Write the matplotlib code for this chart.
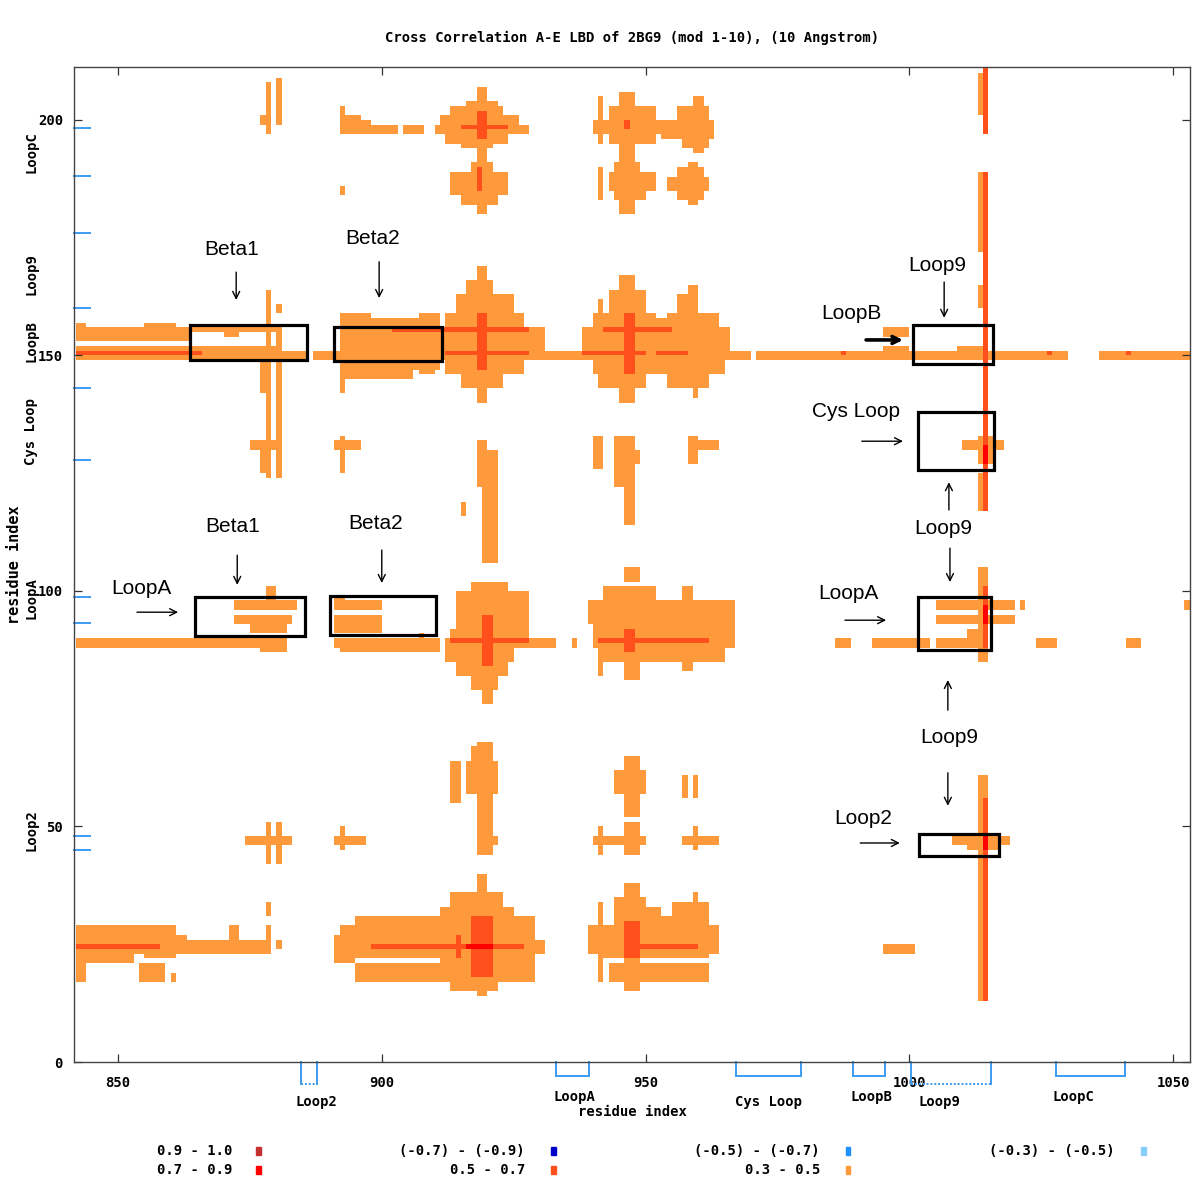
import numpy as np
import matplotlib
matplotlib.use("Agg")
import matplotlib.pyplot as plt
import matplotlib.transforms as mtransforms
from matplotlib.colors import ListedColormap, BoundaryNorm
from matplotlib.patches import Rectangle

# ---------------------------------------------------------------------------
# Residue ranges of the two chains (A on y, E on x)
x_first, x_last = 842, 1053
y_first, y_last = 0, 211

x_ticks = [850, 900, 950, 1000, 1050]
y_ticks = [0, 50, 100, 150, 200]

# Correlation classes and their colours
class_edges = [-0.9, -0.7, -0.5, -0.3, 0.3, 0.5, 0.7, 0.9, 1.0]
class_colors = ['#0000cc', '#1e90ff', '#87cefa', '#ffffff',
                '#ff9a3c', '#ff4f1a', '#ff0000', '#c43030']

legend_labels = ["0.9 - 1.0", "0.7 - 0.9",
                 "(-0.7) - (-0.9)", "0.5 - 0.7",
                 "(-0.5) - (-0.7)", "0.3 - 0.5",
                 "(-0.3) - (-0.5)"]
legend_values = [0.95, 0.8, -0.8, 0.6, -0.6, 0.4, -0.4]

# Loop segments of chain E (x axis) and chain A (y axis)
x_loop_names = ["Loop2", "LoopA", "Cys Loop", "LoopB", "Loop9", "LoopC"]
x_loop_start = [884.7, 933.0, 967.2, 989.3, 1000.3, 1027.8]
x_loop_end = [887.7, 939.3, 979.5, 995.4, 1015.5, 1040.9]
x_loop_label_x = [883.6, 932.5, 967.0, 988.8, 1001.8, 1027.1]

y_loop_marks = [198.3, 188.1, 176.0, 160.1, 143.1, 127.8, 98.7, 93.1, 48.0, 45.0]
y_loop_names = ["LoopC", "Loop9", "LoopB", "Cys Loop", "LoopA", "Loop2"]
y_loop_label_y = [193.2, 167.3, 153.0, 133.8, 98.6, 49.3]

# ---------------------------------------------------------------------------
# Correlated residue blocks: (x0, x1, y0, y1, r), cells x0..x1-1, y0..y1-1
rows_top = [
    (877, 878, 199, 201, 0.4), (878, 879, 197, 208, 0.4), (880, 881, 199, 209, 0.4),
    (892, 893, 197, 203, 0.4), (893, 896, 197, 201, 0.4), (896, 898, 197, 200, 0.4),
    (898, 903, 197, 199, 0.4), (904, 908, 197, 199, 0.4), (892, 893, 184, 186, 0.4),
    (918, 920, 204, 207, 0.4), (916, 922, 203, 204, 0.4), (913, 923, 201, 203, 0.4),
    (911, 926, 199, 201, 0.4), (910, 928, 197, 199, 0.4), (912, 924, 195, 197, 0.4),
    (915, 921, 194, 195, 0.4), (918, 920, 190, 194, 0.4), (917, 921, 189, 191, 0.4),
    (913, 924, 184, 189, 0.4), (915, 922, 182, 184, 0.4), (918, 920, 180, 182, 0.4),
    (918, 920, 196, 202, 0.6), (915, 924, 198, 199, 0.6), (918, 919, 185, 190, 0.6),
    (941, 942, 195, 205, 0.4), (945, 948, 203, 206, 0.4), (943, 952, 200, 203, 0.4),
    (940, 953, 197, 200, 0.4), (943, 952, 195, 197, 0.4), (945, 948, 190, 195, 0.4),
    (941, 942, 183, 190, 0.4), (944, 949, 189, 191, 0.4), (943, 952, 185, 189, 0.4),
    (944, 950, 183, 185, 0.4), (945, 948, 180, 183, 0.4), (946, 947, 198, 200, 0.6),
    (959, 961, 203, 205, 0.4), (956, 962, 200, 203, 0.4), (953, 963, 196, 200, 0.4),
    (957, 962, 194, 196, 0.4), (959, 961, 193, 194, 0.4),
    (956, 961, 183, 190, 0.4), (954, 962, 185, 188, 0.4), (958, 960, 182, 191, 0.4),
]

rows_150 = [
    (842, 864, 153, 156, 0.4), (842, 844, 156, 157, 0.4), (855, 861, 156, 157, 0.4),
    (864, 881, 155, 156, 0.4), (870, 873, 154, 155, 0.4), (842, 881, 149, 152, 0.4),
    (881, 886, 149, 151, 0.4), (887, 892, 149, 151, 0.4), (842, 866, 150, 151, 0.6),
    (878, 879, 124, 164, 0.4), (880, 881, 124, 156, 0.4), (880, 881, 159, 161, 0.4),
    (877, 878, 142, 150, 0.4), (877, 878, 125, 132, 0.4), (875, 881, 130, 132, 0.4),
    (892, 893, 142, 159, 0.4), (892, 911, 147, 158, 0.4), (893, 898, 158, 159, 0.4),
    (907, 911, 158, 159, 0.4), (893, 906, 145, 147, 0.4), (907, 910, 146, 147, 0.4),
    (892, 893, 125, 133, 0.4), (891, 896, 130, 132, 0.4), (902, 928, 155, 156, 0.6),
    (918, 920, 166, 169, 0.4), (916, 921, 163, 166, 0.4), (914, 925, 159, 163, 0.4),
    (912, 927, 156, 159, 0.4), (910, 931, 149, 156, 0.4), (912, 927, 146, 149, 0.4),
    (915, 923, 143, 146, 0.4), (918, 920, 140, 143, 0.4), (918, 920, 147, 159, 0.6),
    (912, 928, 150, 151, 0.6), (931, 970, 149, 151, 0.4),
    (945, 948, 164, 167, 0.4), (941, 942, 156, 162, 0.4), (943, 950, 159, 164, 0.4),
    (956, 960, 159, 163, 0.4), (958, 960, 163, 165, 0.4), (940, 952, 156, 159, 0.4),
    (952, 954, 156, 158, 0.4), (954, 964, 156, 159, 0.4), (938, 966, 149, 156, 0.4),
    (940, 965, 146, 149, 0.4), (941, 950, 143, 146, 0.4), (954, 962, 143, 146, 0.4),
    (945, 948, 140, 143, 0.4), (959, 960, 141, 143, 0.4),
    (946, 948, 146, 159, 0.6), (942, 955, 155, 156, 0.6), (938, 950, 150, 151, 0.6),
    (952, 958, 150, 151, 0.6),
    (971, 1030, 149, 151, 0.4), (1036, 1054, 149, 151, 0.4), (987, 988, 150, 151, 0.6),
    (1026, 1027, 150, 151, 0.6), (1041, 1042, 150, 151, 0.6),
    (995, 1000, 154, 156, 0.4), (995, 1000, 149, 152, 0.4), (1009, 1014, 149, 152, 0.4),
]

rows_130 = [
    (918, 920, 122, 132, 0.4), (920, 922, 122, 130, 0.4), (919, 922, 106, 122, 0.4),
    (915, 916, 116, 119, 0.4), (940, 942, 126, 133, 0.4), (944, 948, 122, 133, 0.4),
    (948, 949, 127, 130, 0.4), (958, 960, 127, 133, 0.4), (960, 964, 130, 132, 0.4),
    (946, 948, 114, 122, 0.4), (1010, 1018, 130, 132, 0.4), (1013, 1016, 127, 133, 0.4),
    (1014, 1015, 127, 131, 0.8),
]

rows_90 = [
    (842, 882, 88, 90, 0.4), (872, 884, 96, 98, 0.4), (872, 883, 93, 95, 0.4),
    (875, 882, 91, 93, 0.4), (878, 880, 98, 101, 0.4), (877, 882, 87, 88, 0.4),
    (891, 900, 96, 98, 0.4), (891, 893, 98, 99, 0.4), (891, 900, 91, 95, 0.4),
    (891, 911, 88, 90, 0.4), (892, 911, 87, 88, 0.4), (907, 908, 90, 91, 0.4),
    (917, 924, 100, 102, 0.4), (914, 928, 98, 100, 0.4), (914, 928, 92, 98, 0.4),
    (913, 928, 90, 92, 0.4), (912, 933, 88, 90, 0.4), (912, 925, 85, 88, 0.4),
    (914, 924, 82, 85, 0.4), (917, 922, 79, 82, 0.4), (919, 921, 76, 79, 0.4),
    (936, 937, 88, 90, 0.4), (919, 921, 84, 95, 0.6), (913, 928, 89, 90, 0.6),
    (946, 949, 102, 105, 0.4), (942, 952, 98, 101, 0.4), (957, 959, 98, 101, 0.4),
    (939, 967, 93, 98, 0.4), (940, 967, 88, 93, 0.4), (941, 965, 85, 88, 0.4),
    (946, 949, 81, 85, 0.4), (941, 942, 82, 85, 0.4), (957, 959, 83, 85, 0.4),
    (941, 962, 89, 90, 0.6), (946, 948, 87, 92, 0.6),
    (986, 989, 88, 90, 0.4), (993, 1004, 88, 90, 0.4), (1005, 1014, 88, 90, 0.4),
    (1024, 1028, 88, 90, 0.4), (1041, 1044, 88, 90, 0.4), (1005, 1020, 96, 98, 0.4),
    (1021, 1022, 96, 98, 0.4), (1005, 1020, 93, 95, 0.4), (1011, 1013, 90, 92, 0.4),
    (1052, 1054, 96, 98, 0.4),
]

rows_47 = [
    (874, 883, 46, 48, 0.4), (878, 879, 42, 51, 0.4), (880, 881, 42, 51, 0.4),
    (891, 897, 46, 48, 0.4), (892, 893, 45, 50, 0.4),
    (918, 921, 44, 68, 0.4), (916, 922, 57, 64, 0.4), (917, 921, 64, 67, 0.4),
    (913, 915, 55, 64, 0.4), (921, 922, 46, 48, 0.4),
    (946, 949, 52, 65, 0.4), (944, 950, 57, 62, 0.4), (946, 949, 44, 51, 0.4),
    (940, 950, 46, 48, 0.4), (941, 942, 44, 50, 0.4),
    (957, 958, 56, 61, 0.4), (959, 960, 56, 61, 0.4), (957, 964, 46, 48, 0.4),
    (959, 960, 45, 50, 0.4),
    (1008, 1019, 46, 48, 0.4), (1011, 1017, 45, 46, 0.4), (1013, 1015, 44, 51, 0.4),
    (1014, 1015, 45, 48, 0.8),
]

rows_25 = [
    (842, 861, 23, 29, 0.4), (842, 853, 21, 23, 0.4), (855, 861, 22, 23, 0.4),
    (861, 879, 23, 26, 0.4), (861, 863, 26, 27, 0.4), (871, 873, 26, 29, 0.4),
    (878, 879, 23, 29, 0.4), (878, 879, 31, 34, 0.4), (880, 881, 24, 26, 0.4),
    (842, 844, 17, 21, 0.4), (854, 859, 17, 21, 0.4), (860, 861, 17, 19, 0.4),
    (842, 858, 24, 25, 0.6),
    (891, 892, 23, 27, 0.4), (892, 929, 23, 29, 0.4), (929, 931, 23, 26, 0.4),
    (895, 912, 29, 31, 0.4), (911, 925, 29, 33, 0.4), (913, 923, 33, 36, 0.4),
    (918, 920, 36, 40, 0.4), (925, 929, 29, 31, 0.4), (891, 895, 21, 23, 0.4),
    (895, 929, 17, 23, 0.4), (913, 922, 15, 17, 0.4), (918, 920, 14, 15, 0.4),
    (917, 921, 18, 31, 0.6), (914, 915, 22, 27, 0.6), (898, 927, 24, 25, 0.6),
    (916, 921, 24, 25, 0.8),
    (939, 964, 23, 29, 0.4), (941, 962, 17, 23, 0.4), (944, 950, 29, 35, 0.4),
    (946, 949, 35, 38, 0.4), (941, 942, 29, 34, 0.4), (950, 953, 29, 33, 0.4),
    (953, 956, 29, 31, 0.4), (955, 962, 29, 34, 0.4), (959, 960, 34, 36, 0.4),
    (946, 949, 15, 17, 0.4), (946, 949, 22, 30, 0.6), (947, 960, 24, 25, 0.6),
    (995, 1001, 23, 25, 0.4),
]

loop9_column = [
    (1013, 1014, 201, 210, 0.4), (1014, 1015, 197, 212, 0.6),
    (1013, 1015, 186, 189, 0.4), (1014, 1015, 117, 189, 0.6),
    (1013, 1014, 172, 186, 0.4), (1013, 1014, 160, 165, 0.4),
    (1013, 1014, 117, 125, 0.4),
    (1013, 1015, 85, 105, 0.4), (1014, 1015, 88, 101, 0.6), (1014, 1015, 93, 97, 0.8),
    (1013, 1015, 13, 61, 0.4), (1014, 1015, 13, 56, 0.6),
]

# uncorrelated lines running through the large blocks
empty_cells = [
    (895, 911, 21, 22), (942, 946, 21, 22), (949, 962, 21, 22), (942, 943, 17, 21),
]

# ---------------------------------------------------------------------------
nx = x_last - x_first + 1
ny = y_last - y_first + 1
corr = np.full((ny, nx), np.nan)
blocks = rows_top + rows_150 + rows_130 + rows_90 + rows_47 + rows_25 + loop9_column
for x0, x1, y0, y1, r in sorted(blocks, key=lambda b: b[4]):
    corr[y0 - y_first:y1 - y_first, x0 - x_first:x1 - x_first] = r
for x0, x1, y0, y1 in empty_cells:
    corr[y0 - y_first:y1 - y_first, x0 - x_first:x1 - x_first] = np.nan

cmap = ListedColormap(class_colors)
norm = BoundaryNorm(class_edges, cmap.N)

W, H = 1197, 1182
fig = plt.figure(figsize=(W / 100, H / 100), dpi=100)
ax = fig.add_axes([74 / W, 1 - 1062 / H, 1116 / W, 995 / H])

x_edges = np.arange(x_first, x_last + 2)
y_edges = np.arange(y_first, y_last + 2)
ax.pcolormesh(x_edges, y_edges, np.ma.masked_invalid(corr), cmap=cmap, norm=norm,
              shading='flat', antialiased=False, edgecolors='none')

ax.set_xlim(841.66, 1053.2)
ax.set_ylim(0, 211.25)

mono = dict(family='DejaVu Sans Mono', weight='bold')
ax.set_xticks(x_ticks)
ax.set_yticks(y_ticks)
ax.set_xticklabels([str(v) for v in x_ticks], fontsize=10, **mono)
ax.set_yticklabels([str(v) for v in y_ticks], fontsize=10, **mono)
ax.tick_params(axis='both', direction='in', length=6, width=0.9, color='#333333',
               top=True, right=True)
ax.tick_params(axis='x', pad=10)
ax.tick_params(axis='y', pad=8)
for side, sp in ax.spines.items():
    sp.set_color('#444444')
    sp.set_linewidth(1.0)

# loop brackets under the x axis
xtrans = mtransforms.blended_transform_factory(ax.transData, ax.transAxes)
loop_blue = '#3c9cf0'
for i, (name, a, b) in enumerate(zip(x_loop_names, x_loop_start, x_loop_end)):
    deep = name in ("Loop2", "Loop9")
    depth = -0.0221 if deep else -0.0141
    ax.plot([a, a], [0, depth], color=loop_blue, lw=1.4, transform=xtrans, clip_on=False)
    ax.plot([b, b], [0, depth], color=loop_blue, lw=1.4, transform=xtrans, clip_on=False)
    ax.plot([a, b], [depth, depth], color=loop_blue, lw=1.4,
            ls=(0, (1, 1)) if deep else '-', transform=xtrans, clip_on=False)
    label_y = -0.0402 if i % 2 == 0 else -0.0352
    ax.text(x_loop_label_x[i], label_y, name, transform=xtrans, ha='left', va='center',
            fontsize=10, **mono)

# loop marks on the y axis
ytrans = mtransforms.blended_transform_factory(ax.transAxes, ax.transData)
for yv in y_loop_marks:
    ax.plot([0, 0.0143], [yv, yv], color=loop_blue, lw=1.4, transform=ytrans, clip_on=False)
for name, yv in zip(y_loop_names, y_loop_label_y):
    ax.text(-0.0385, yv, name, transform=ytrans, rotation=90, ha='center', va='center',
            fontsize=10, **mono)

ax.text(0.5, -0.0503, "residue index", transform=ax.transAxes, ha='center', va='center',
        fontsize=10, **mono)
ax.text(-0.0535, 0.5, "residue index", transform=ax.transAxes, rotation=90,
        ha='center', va='center', fontsize=11, **mono)
fig.text(632 / W, 1 - 38 / H, "Cross Correlation A-E LBD of 2BG9 (mod 1-10), (10 Angstrom)",
         ha='center', va='center', fontsize=10, **mono)

# ---------------------------------------------------------------------------
# annotations
sans = dict(family='Liberation Sans', fontsize=15)
boxes = [
    (863.6, 885.8, 149.0, 156.5), (890.9, 911.4, 148.8, 156.1),
    (1000.7, 1015.9, 148.2, 156.5), (1001.7, 1016.1, 125.7, 138.0),
    (864.6, 885.5, 90.4, 98.7), (890.2, 910.3, 90.7, 98.9),
    (1001.7, 1015.5, 87.5, 98.7), (1001.8, 1017.0, 43.7, 48.4),
]
for x0, x1, y0, y1 in boxes:
    ax.add_patch(Rectangle((x0, y0), x1 - x0, y1 - y0, fill=False, ec='black', lw=2.3,
                           zorder=5))

labels = [
    ("Beta1", 871.6, 172.4), ("Beta2", 898.3, 174.9), ("Loop9", 1005.3, 169.2),
    ("LoopB", 989.0, 159.0), ("Cys Loop", 989.9, 138.2), ("Loop9", 1006.4, 113.2),
    ("Beta1", 871.8, 113.6), ("Beta2", 898.9, 114.4), ("LoopA", 854.4, 100.6),
    ("LoopA", 988.4, 99.4), ("Loop9", 1007.5, 69.0), ("Loop2", 991.2, 51.8),
]
for t, xv, yv in labels:
    ax.text(xv, yv, t, ha='center', va='center', zorder=6, **sans)

arrows = [
    ((872.4, 167.7), (872.4, 161.8), 1.0), ((899.5, 169.9), (899.5, 162.2), 1.0),
    ((1006.6, 165.6), (1006.6, 158.0), 1.0), ((991.8, 153.3), (998.8, 153.3), 2.6),
    ((991.0, 131.8), (998.8, 131.8), 1.0), ((1007.5, 117.2), (1007.5, 123.1), 1.0),
    ((1007.7, 109.1), (1007.7, 101.9), 1.0), ((872.6, 107.6), (872.6, 101.3), 1.0),
    ((900.0, 108.7), (900.0, 101.7), 1.0), ((853.6, 95.5), (861.4, 95.5), 1.0),
    ((987.8, 93.8), (995.6, 93.8), 1.0), ((1007.3, 74.7), (1007.3, 81.1), 1.0),
    ((1007.3, 61.4), (1007.3, 54.4), 1.0), ((990.7, 46.5), (998.2, 46.5), 1.0),
]
for start, end, lw in arrows:
    ax.annotate('', xy=end, xytext=start, zorder=6,
                arrowprops=dict(arrowstyle='->,head_length=0.5,head_width=0.25',
                                lw=lw, color='black', shrinkA=0, shrinkB=0))

# ---------------------------------------------------------------------------
# colour key
key_text_right = [232, 232, 525, 525, 820, 820, 1115]
key_marker_x = [258, 258, 553, 553, 848, 848, 1143]
key_row_y = [1151, 1170, 1151, 1170, 1151, 1170, 1151]
for lab, val, tx, mx, py in zip(legend_labels, legend_values, key_text_right,
                                key_marker_x, key_row_y):
    fig.text(tx / W, 1 - py / H, lab, ha='right', va='center', fontsize=10, **mono)
    fig.patches.append(Rectangle(((mx - 2.5) / W, 1 - (py + 4) / H), 5 / W, 8 / H,
                                 transform=fig.transFigure, color=cmap(norm(val)),
                                 figure=fig))

fig.savefig('out.png', dpi=100)
